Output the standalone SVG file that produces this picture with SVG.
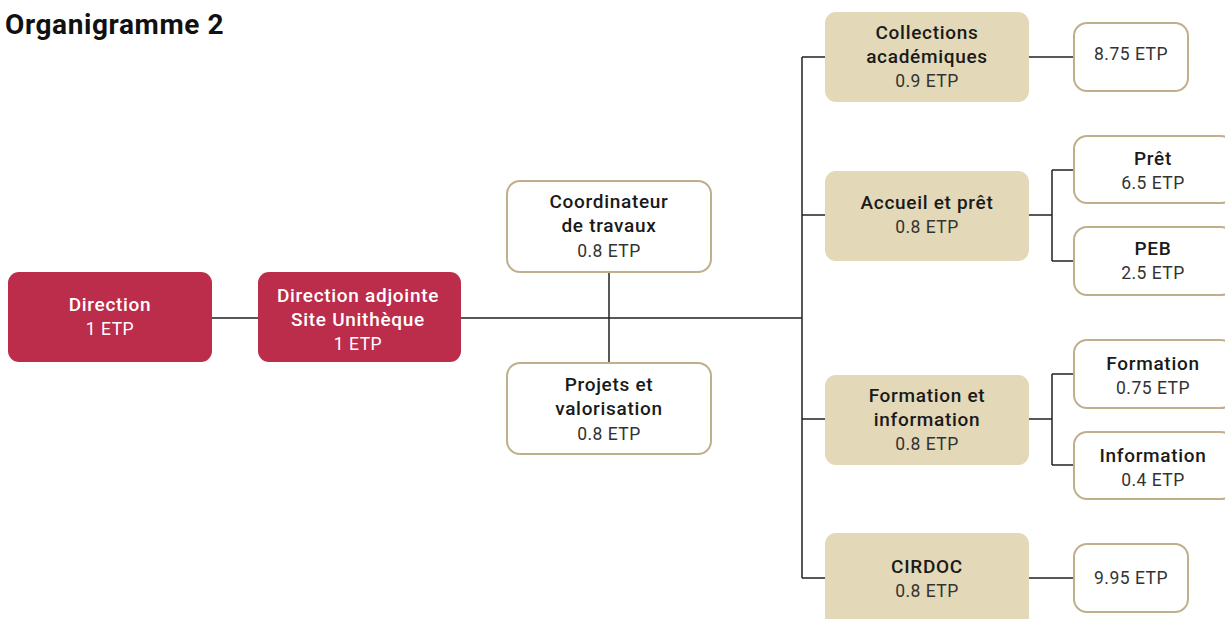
<svg xmlns="http://www.w3.org/2000/svg" width="1225" height="619" viewBox="0 0 1225 619">
<style>
text{font-family:Roboto,"DejaVu Sans",sans-serif;text-anchor:middle;fill:#1a1a1a}
.n{font-size:19px;font-weight:500;letter-spacing:0.7px}
.e{font-size:17.5px;font-weight:400;fill:#333;letter-spacing:0.5px}
.w{fill:#fff}
.red{fill:#BC2C4B}
.beige{fill:#E3D8B7}
.out{fill:#fff;stroke:#BFAF8C;stroke-width:2}
.c{stroke:#222;stroke-width:1.5;fill:none}
</style>
<rect width="1225" height="619" fill="#fff"/>
<text x="5" y="34" style="text-anchor:start;font-size:28px;font-weight:700;fill:#111;letter-spacing:0.6px">Organigramme 2</text>
<g id="connectors">
<path class="c" d="M212 318H258M461 318H802M609 272V363M802 57V578M802 57H825M802 215H825M802 419H825M802 578H825M1029 57H1074M1029 215H1052M1052 170V261M1052 170H1074M1052 261H1074M1029 419H1052M1052 374V465M1052 374H1074M1052 465H1074M1029 578H1074"/>
</g>
<g id="direction"><rect class="red" x="8" y="272" width="204" height="90" rx="11"/><text class="n w" x="110" y="311">Direction</text><text class="e w" x="110" y="335" style="fill:#fff">1 ETP</text></g>
<g id="adjointe"><rect class="red" x="258" y="272" width="203" height="90" rx="11"/><text class="n w" x="358" y="302">Direction adjointe</text><text class="n w" x="358" y="326">Site Unithèque</text><text class="e" x="358" y="350" style="fill:#fff">1 ETP</text></g>
<g id="coordinateur"><rect class="out" x="507" y="181" width="204" height="91" rx="13"/><text class="n" x="609" y="208">Coordinateur</text><text class="n" x="609" y="232">de travaux</text><text class="e" x="609" y="257">0.8 ETP</text></g>
<g id="projets"><rect class="out" x="507" y="363" width="204" height="91" rx="13"/><text class="n" x="609" y="391">Projets et</text><text class="n" x="609" y="415">valorisation</text><text class="e" x="609" y="440">0.8 ETP</text></g>
<g id="collections"><rect class="beige" x="825" y="12" width="204" height="90" rx="11"/><text class="n" x="927" y="39">Collections</text><text class="n" x="927" y="63">académiques</text><text class="e" x="927" y="87">0.9 ETP</text></g>
<g id="c875"><rect class="out" x="1074" y="23" width="114" height="68" rx="13"/><text class="e" x="1131" y="60">8.75 ETP</text></g>
<g id="accueil"><rect class="beige" x="825" y="171" width="204" height="90" rx="11"/><text class="n" x="927" y="209">Accueil et prêt</text><text class="e" x="927" y="233">0.8 ETP</text></g>
<g id="pret"><rect class="out" x="1074" y="136" width="160" height="67" rx="13"/><text class="n" x="1153" y="165">Prêt</text><text class="e" x="1153" y="189">6.5 ETP</text></g>
<g id="peb"><rect class="out" x="1074" y="227" width="160" height="68" rx="13"/><text class="n" x="1153" y="255">PEB</text><text class="e" x="1153" y="279">2.5 ETP</text></g>
<g id="formationinfo"><rect class="beige" x="825" y="375" width="204" height="90" rx="11"/><text class="n" x="927" y="402">Formation et</text><text class="n" x="927" y="426">information</text><text class="e" x="927" y="450">0.8 ETP</text></g>
<g id="formation"><rect class="out" x="1074" y="340" width="160" height="68" rx="13"/><text class="n" x="1153" y="370">Formation</text><text class="e" x="1153" y="394">0.75 ETP</text></g>
<g id="information"><rect class="out" x="1074" y="432" width="160" height="67" rx="13"/><text class="n" x="1153" y="462">Information</text><text class="e" x="1153" y="486">0.4 ETP</text></g>
<g id="cirdoc"><rect class="beige" x="825" y="533" width="204" height="96" rx="11"/><text class="n" x="927" y="573">CIRDOC</text><text class="e" x="927" y="597">0.8 ETP</text></g>
<g id="c995"><rect class="out" x="1074" y="544" width="114" height="68" rx="13"/><text class="e" x="1131" y="584">9.95 ETP</text></g>
</svg>
